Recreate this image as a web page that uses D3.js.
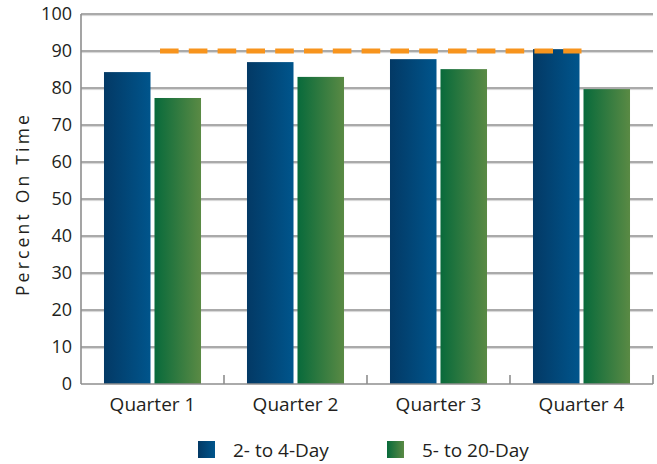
<!DOCTYPE html>
<html>
<head>
<meta charset="utf-8">
<script src="https://cdn.jsdelivr.net/npm/d3@7/dist/d3.min.js"></script>
<style>
  html, body { margin: 0; padding: 0; background: #fff; }
  svg { display: block; font-family: "Open Sans", "Noto Sans", sans-serif; }
</style>
</head>
<body>
<svg id="chart" width="657" height="464"></svg>
<script>
// Quarterly on-time percentages by delivery window
const quarters = ["Quarter 1", "Quarter 2", "Quarter 3", "Quarter 4"];
const seriesNames = ["2- to 4-Day", "5- to 20-Day"];
const shortWindow = [84.3, 87.0, 87.8, 90.5];
const longWindow = [77.3, 83.0, 85.1, 79.7];
const targetValue = 90;
const yTicks = [0, 10, 20, 30, 40, 50, 60, 70, 80, 90, 100];

const svg = d3.select("#chart");
const margin = { top: 14, right: 4, bottom: 80, left: 81 };
const W = 657, H = 464;
const innerW = W - margin.left - margin.right;
const innerH = H - margin.top - margin.bottom;
const textColor = "#231f20";

// gradients for the two series
const defs = svg.append("defs");
function grad(id, c0, c1) {
  const g = defs.append("linearGradient").attr("id", id)
    .attr("x1", "0%").attr("x2", "100%").attr("y1", "0%").attr("y2", "0%");
  g.append("stop").attr("offset", "0%").attr("stop-color", c0);
  g.append("stop").attr("offset", "100%").attr("stop-color", c1);
}
grad("gBlue", "#033965", "#00558c");
grad("gGreen", "#086a3b", "#5a8a44");
const fills = ["url(#gBlue)", "url(#gGreen)"];

const g = svg.append("g").attr("transform", `translate(${margin.left},${margin.top})`);

const x0 = d3.scaleBand().domain(quarters).range([0, innerW]).paddingInner(0).paddingOuter(0);
const x1 = d3.scaleBand().domain(seriesNames).range([0, x0.bandwidth()])
  .paddingInner(0.079).paddingOuter(0.455);
const y = d3.scaleLinear().domain([0, 100]).range([innerH, 0]);

// gridlines
const grid = g.append("g");
yTicks.filter(t => t > 0).forEach(t => {
  grid.append("line").attr("x1", 0).attr("x2", innerW)
    .attr("y1", y(t) + 1.6).attr("y2", y(t) + 1.6)
    .attr("stroke", "#d4d4d4").attr("stroke-width", 1);
  grid.append("line").attr("x1", 0).attr("x2", innerW)
    .attr("y1", y(t)).attr("y2", y(t))
    .attr("stroke", "#8e8e8e").attr("stroke-width", 1.6);
});

// y tick labels
g.append("g").selectAll("text").data(yTicks).join("text")
  .attr("x", -9).attr("y", d => y(d)).attr("dy", "0.36em")
  .attr("text-anchor", "end").attr("font-size", 18).attr("fill", textColor)
  .text(d => d);

// bars
const data = quarters.map((q, i) => ({ q, vals: [shortWindow[i], longWindow[i]] }));
const groups = g.append("g").selectAll("g").data(data).join("g")
  .attr("transform", d => `translate(${x0(d.q)},0)`);
groups.selectAll("rect").data(d => d.vals.map((v, k) => ({ v, k })))
  .join("rect")
  .attr("x", d => x1(seriesNames[d.k]))
  .attr("width", x1.bandwidth())
  .attr("y", d => y(d.v))
  .attr("height", d => y(0) - y(d.v))
  .attr("fill", d => fills[d.k]);

// axes lines
g.append("line").attr("x1", 0).attr("x2", 0).attr("y1", 0).attr("y2", innerH)
  .attr("stroke", "#8e8e8e").attr("stroke-width", 1.6);
g.append("line").attr("x1", 0).attr("x2", innerW).attr("y1", innerH).attr("y2", innerH)
  .attr("stroke", "#8e8e8e").attr("stroke-width", 1.6);
// category boundary ticks
quarters.forEach(q => {
  const xx = x0(q) + x0.bandwidth();
  g.append("line").attr("x1", xx).attr("x2", xx)
    .attr("y1", innerH - 9).attr("y2", innerH)
    .attr("stroke", "#8e8e8e").attr("stroke-width", 1.6);
});

// target line
const tx0 = x0(quarters[0]) + x0.bandwidth() / 2;
const tx1 = x0(quarters[3]) + x0.bandwidth() / 2;
g.append("line").attr("x1", tx0).attr("x2", tx1)
  .attr("y1", y(targetValue)).attr("y2", y(targetValue))
  .attr("stroke", "#f7941d").attr("stroke-width", 5)
  .attr("stroke-dasharray", "18.6,10.2")
  .attr("stroke-dashoffset", 21.3);

// x labels
g.append("g").selectAll("text").data(quarters).join("text")
  .attr("x", d => x0(d) + x0.bandwidth() / 2)
  .attr("y", innerH + 27)
  .attr("text-anchor", "middle").attr("font-size", 19).attr("fill", textColor)
  .text(d => d);

// y axis title
svg.append("text")
  .attr("transform", `translate(29,${margin.top + innerH / 2 + 5}) rotate(-90)`)
  .attr("text-anchor", "middle").attr("font-size", 17.5).attr("letter-spacing", 3.2)
  .attr("fill", textColor)
  .text("Percent On Time");

// legend
const legendX = [198, 387];
const legend = svg.append("g");
seriesNames.forEach((s, k) => {
  legend.append("rect").attr("x", legendX[k]).attr("y", 441)
    .attr("width", 17).attr("height", 17).attr("fill", fills[k]);
  legend.append("text").attr("x", legendX[k] + 35).attr("y", 457)
    .attr("font-size", 19).attr("fill", textColor).text(s);
});
</script>
</body>
</html>
